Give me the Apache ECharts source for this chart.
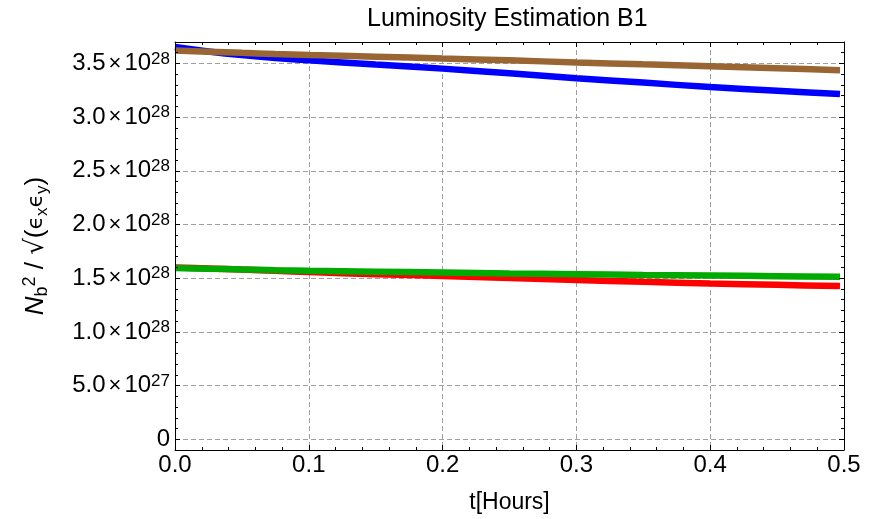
<!DOCTYPE html>
<html>
<head>
<meta charset="utf-8">
<script src="https://cdn.jsdelivr.net/npm/echarts@6/dist/echarts.min.js"></script>
<style>
  html, body { margin: 0; padding: 0; background: #fff; }
  #chart { width: 874px; height: 519px; }
</style>
</head>
<body>
<div id="chart"></div>
<script>
// Time in hours
const tHours = [0, 0.025, 0.05, 0.075, 0.1, 0.15, 0.2, 0.25, 0.3, 0.35, 0.4, 0.45, 0.497];

// N_b^2 / sqrt(eps_x eps_y), in units of 1e28
const lumiBlue  = [3.653, 3.612, 3.578, 3.551, 3.530, 3.490, 3.452, 3.408, 3.363, 3.322, 3.280, 3.246, 3.215];
const lumiBrown = [3.621, 3.610, 3.599, 3.589, 3.580, 3.563, 3.546, 3.529, 3.510, 3.492, 3.475, 3.456, 3.438];
const lumiRed   = [1.600, 1.590, 1.580, 1.570, 1.557, 1.538, 1.520, 1.502, 1.484, 1.466, 1.450, 1.438, 1.427];
const lumiGreen = [1.594, 1.588, 1.582, 1.575, 1.569, 1.561, 1.553, 1.545, 1.538, 1.531, 1.525, 1.519, 1.513];

// Labelled tick positions
const xMajorTicks = [0, 0.1, 0.2, 0.3, 0.4, 0.5];
const yMajorTicks = [0, 0.5, 1.0, 1.5, 2.0, 2.5, 3.0, 3.5];

const FONT = '"Liberation Sans", Arial, "DejaVu Sans", sans-serif';
const GRID_COLOR = '#a0a0a0';

function pairs(ys) { return tHours.map((t, i) => [t, ys[i]]); }

function isMajor(list, v) { return list.some(m => Math.abs(m - v) < 1e-6); }

function yLabel(v) {
  if (!isMajor(yMajorTicks, v)) return '';
  const r = Math.round(v * 10) / 10;
  if (r === 0) return '{m|0}';
  if (r < 1) return '{m|' + (r * 10).toFixed(1) + '}{x|×}{m|10}{s|27}';
  return '{m|' + r.toFixed(1) + '}{x|×}{m|10}{s|28}';
}

const yLabelRich = {
  m: { fontSize: 24, lineHeight: 26, fontFamily: FONT, color: '#000' },
  x: { fontSize: 22, lineHeight: 26, fontFamily: FONT, color: '#000', padding: [0, 3, 0, 3] },
  s: { fontSize: 17, lineHeight: 18, fontFamily: FONT, color: '#000', verticalAlign: 'top' }
};

const Y_MIN = -0.1, Y_MAX = 3.7;

const frameLine = { show: true, onZero: false, lineStyle: { color: '#000', width: 1 } };
const majorTick = { show: true, inside: true, length: 5, lineStyle: { color: '#000', width: 1 } };
const minorTick = { show: true, splitNumber: 5, length: 3, lineStyle: { color: '#000', width: 1 } };

const chart = echarts.init(document.getElementById('chart'), null, { renderer: 'canvas' });

chart.setOption({
  animation: false,
  backgroundColor: '#fff',
  title: {
    text: 'Luminosity Estimation B1',
    left: 367, top: 7, padding: 0,
    textStyle: { fontFamily: FONT, fontSize: 25, fontWeight: 'normal', color: '#000' }
  },
  grid: { left: 175, top: 42, width: 669, height: 413, containLabel: false },
  xAxis: [
    {
      type: 'value', position: 'bottom', min: 0, max: 0.5, interval: 0.1, z: 3,
      axisLine: frameLine, axisTick: majorTick, minorTick: minorTick,
      splitLine: { show: false },
      axisLabel: {
        fontFamily: FONT, fontSize: 24, color: '#000', margin: 3,
        formatter: v => isMajor(xMajorTicks, v) ? v.toFixed(1) : ''
      },
      name: 't[Hours]', nameLocation: 'middle', nameGap: 41,
      nameTextStyle: { fontFamily: FONT, fontSize: 23, color: '#000' }
    },
    {
      type: 'value', position: 'top', min: 0, max: 0.5, interval: 0.1, z: 3,
      axisLine: frameLine, axisTick: majorTick, minorTick: minorTick,
      splitLine: { show: false }, axisLabel: { show: false }
    },
    {
      // dashed vertical grid lines
      type: 'value', position: 'bottom', min: 0, max: 0.5, interval: 0.1, z: 0,
      axisLine: { show: false }, axisTick: { show: false }, axisLabel: { show: false },
      splitLine: { show: true, lineStyle: { color: GRID_COLOR, width: 1, type: [5, 3] } }
    }
  ],
  yAxis: [
    {
      type: 'value', position: 'left', min: Y_MIN, max: Y_MAX,
      minInterval: 0.5, maxInterval: 0.5, z: 1,
      axisLine: { show: false, onZero: false },
      axisTick: majorTick,
      splitLine: { show: true, lineStyle: { color: GRID_COLOR, width: 1, type: [5, 3] } },
      axisLabel: {
        showMinLabel: false, showMaxLabel: false, margin: 5,
        formatter: yLabel, rich: yLabelRich
      },
      name: '{n|N}{sb|b}{sp|2}{t| / }{r|√}{t|(}{e|ϵ}{sx|x}{e|ϵ}{sx|y}{t|)}',
      nameLocation: 'middle', nameGap: 124, nameRotate: 90,
      nameTextStyle: {
        fontFamily: FONT, fontSize: 26, color: '#000',
        rich: {
          n:  { fontFamily: FONT, fontSize: 26, fontStyle: 'italic', lineHeight: 30, color: '#000' },
          sb: { fontFamily: FONT, fontSize: 18, lineHeight: 15, verticalAlign: 'bottom', color: '#000' },
          sp: { fontFamily: FONT, fontSize: 18, lineHeight: 16, verticalAlign: 'top', color: '#000' },
          t:  { fontFamily: FONT, fontSize: 26, lineHeight: 30, color: '#000' },
          r:  { fontFamily: '"DejaVu Sans", sans-serif', fontSize: 26, lineHeight: 30, color: '#000' },
          e:  { fontFamily: '"DejaVu Sans", sans-serif', fontSize: 22, lineHeight: 30, color: '#000' },
          sx: { fontFamily: FONT, fontSize: 17, lineHeight: 15, verticalAlign: 'bottom', color: '#000' }
        }
      }
    },
    {
      // minor ticks and left frame edge
      type: 'value', position: 'left', min: Y_MIN, max: Y_MAX, interval: 0.1, z: 3,
      axisLine: frameLine,
      axisTick: { show: true, inside: true, length: 3, lineStyle: { color: '#000', width: 1 } },
      splitLine: { show: false }, axisLabel: { show: false }
    },
    {
      // minor ticks and right frame edge
      type: 'value', position: 'right', min: Y_MIN, max: Y_MAX, interval: 0.1, z: 3,
      axisLine: frameLine,
      axisTick: { show: true, inside: true, length: 3, lineStyle: { color: '#000', width: 1 } },
      splitLine: { show: false }, axisLabel: { show: false }
    },
    {
      // major ticks on the right edge
      type: 'value', position: 'right', min: Y_MIN, max: Y_MAX,
      minInterval: 0.5, maxInterval: 0.5, z: 3,
      axisLine: { show: false, onZero: false },
      axisTick: majorTick,
      splitLine: { show: false }, axisLabel: { show: false }
    }
  ],
  series: [
    { name: 'blue',  type: 'line', data: pairs(lumiBlue),  color: '#0000ff' },
    { name: 'brown', type: 'line', data: pairs(lumiBrown), color: '#996633' },
    { name: 'red',   type: 'line', data: pairs(lumiRed),   color: '#ff0000' },
    { name: 'green', type: 'line', data: pairs(lumiGreen), color: '#00aa00' }
  ].map(s => Object.assign(s, {
    xAxisIndex: 0, yAxisIndex: 0, showSymbol: false, smooth: 0.3, z: 2,
    lineStyle: { width: 6.5, color: s.color }
  }))
});
</script>
</body>
</html>
